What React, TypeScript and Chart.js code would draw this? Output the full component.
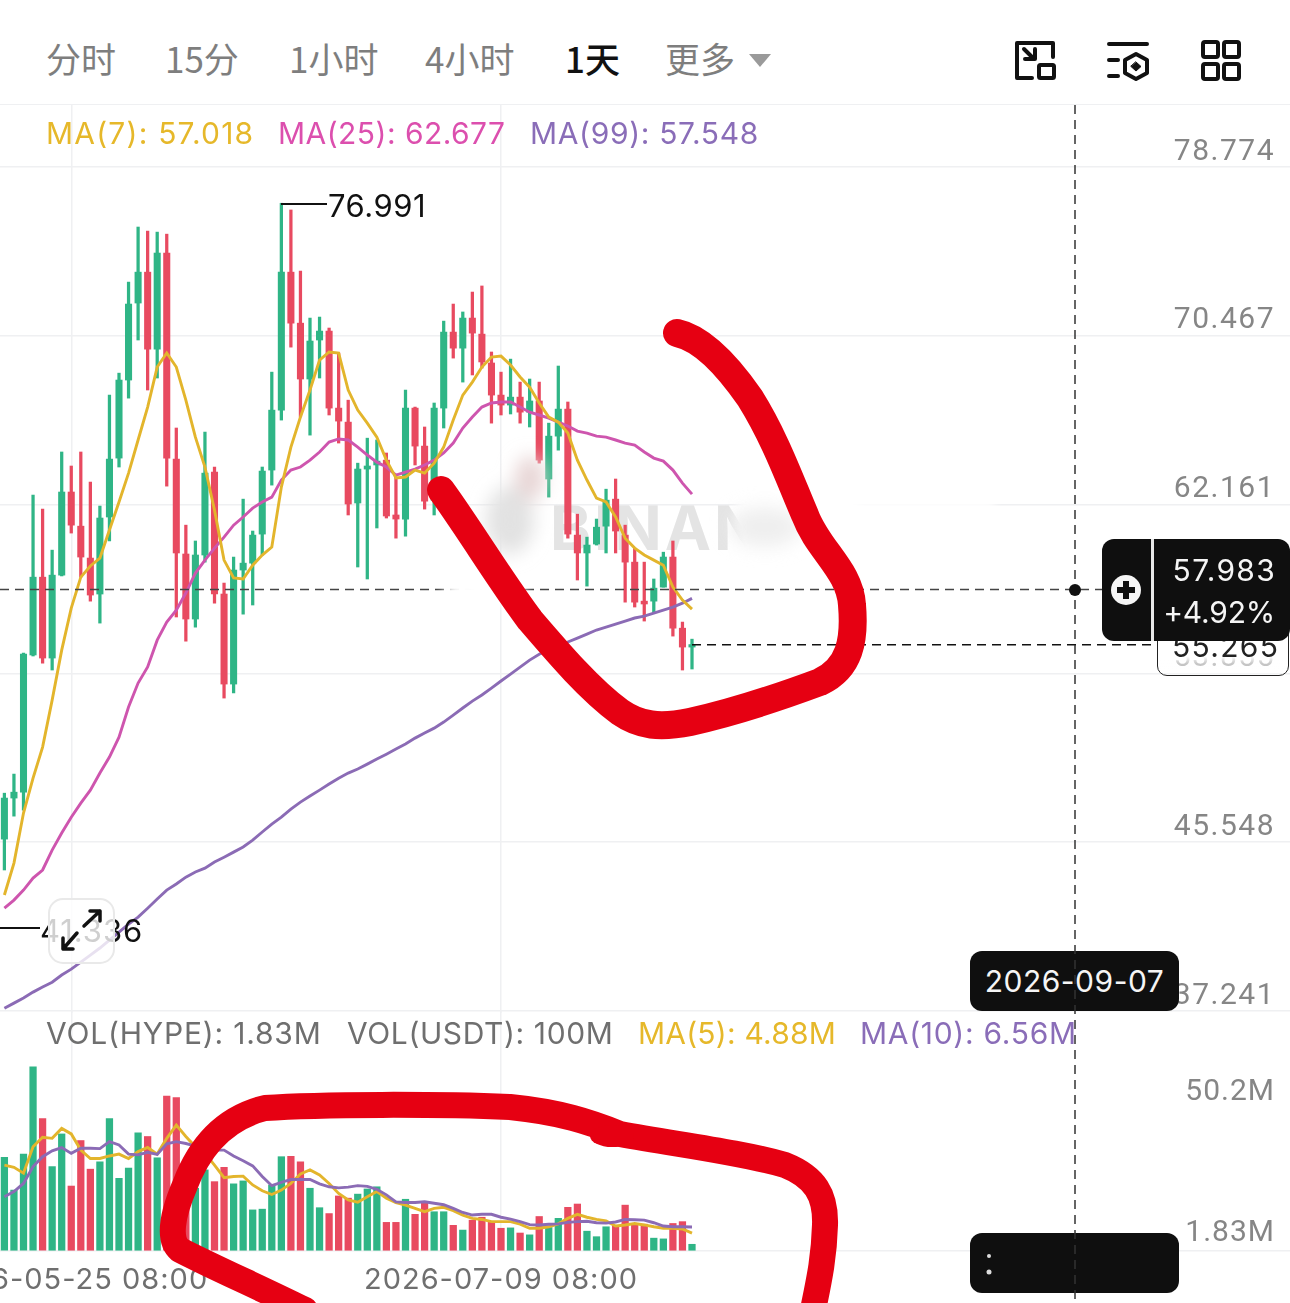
import { useEffect, useRef } from "react";
import { Chart, registerables } from "chart.js";

Chart.register(...registerables);

// daily candles (index 0 = 2026-05-18)
const opens = [45.7, 47.72, 48.01, 54.76, 58.59, 54.61, 58.69, 62.78, 61.1, 59.53, 57.76, 61.55, 64.45, 68.29, 72.08, 73.6, 69.81, 74.54, 64.4, 59.73, 56.53, 59.68, 63.76, 57.76, 53.33, 58.94, 59.28, 60.71, 63.86, 66.81, 73.6, 71.09, 68.34, 70.26, 70.7, 66.91, 66.22, 62.24, 63.91, 64.11, 64.35, 61.65, 61.45, 66.91, 65.04, 62.38, 66.91, 70.65, 69.86, 71.34, 70.55, 69.13, 67.55, 67.06, 67.45, 66.71, 67.26, 63.42, 65.53, 66.86, 60.66, 59.78, 60.22, 61.1, 62.43, 60.66, 59.33, 57.41, 57.41, 58.1, 59.58, 56.08, 55.15];
const highs = [47.96, 48.9, 54.85, 62.63, 61.94, 59.92, 64.75, 64.06, 64.75, 63.27, 62.09, 67.55, 68.63, 73.11, 75.82, 75.62, 75.57, 75.47, 65.93, 61.15, 60.37, 65.73, 64.01, 58.3, 59.58, 62.43, 60.86, 64.01, 68.68, 76.991, 76.66, 73.65, 71.34, 71.39, 70.85, 69.62, 67.3, 64.2, 65.43, 65.34, 64.7, 63.52, 67.8, 66.96, 65.98, 67.16, 71.19, 72.03, 71.64, 72.62, 72.92, 69.67, 68.68, 69.32, 68.19, 68.34, 68.19, 66.17, 68.98, 67.21, 61.69, 60.56, 61.45, 62.92, 63.42, 61.15, 60.02, 59.33, 58.5, 59.82, 60.37, 56.38, 55.54];
const lows = [44.18, 46.83, 47.13, 54.71, 54.36, 54.02, 58.65, 60.76, 58.59, 57.41, 56.33, 60.37, 64.01, 67.4, 70.26, 67.8, 68.39, 63.07, 56.63, 55.44, 56.13, 59.33, 57.31, 52.64, 52.89, 56.77, 57.22, 59.68, 63.12, 66.32, 69.91, 66.47, 65.58, 68.39, 66.57, 65.19, 61.65, 59.09, 58.5, 61.01, 61.5, 60.51, 60.61, 64.11, 61.94, 61.65, 65.93, 69.37, 68.19, 68.54, 68.88, 66.17, 66.57, 66.62, 66.17, 65.98, 64.2, 62.53, 64.84, 60.51, 58.45, 58.15, 60.17, 59.78, 59.78, 57.36, 57.12, 56.43, 56.82, 58.1, 55.69, 54.02, 54.07];
const closes = [47.72, 48.01, 54.81, 58.59, 54.61, 58.69, 62.78, 61.15, 59.58, 57.71, 61.5, 64.4, 68.29, 72.03, 73.6, 69.81, 74.54, 64.45, 59.78, 56.53, 59.68, 63.71, 57.76, 53.33, 58.94, 59.28, 60.66, 63.81, 66.81, 73.6, 71.09, 68.34, 70.21, 70.7, 66.91, 66.27, 62.19, 63.91, 64.06, 64.3, 61.6, 61.45, 66.91, 65.04, 62.33, 66.91, 70.65, 69.86, 71.34, 70.6, 69.18, 67.55, 67.06, 67.45, 66.71, 67.26, 64.35, 65.53, 66.86, 60.71, 59.78, 60.17, 61.05, 62.38, 60.86, 59.33, 57.36, 57.27, 58.05, 59.58, 56.08, 55.15, 55.265];

const ma7 = [42.95, 44.52, 46.98, 48.7, 50.23, 52.54, 55, 57.07, 58.59, 59.14, 59.53, 60.91, 62.29, 63.71, 65.34, 66.96, 68.93, 69.62, 68.93, 67.3, 65.48, 64.01, 61.89, 59.43, 58.55, 58.5, 59.18, 59.68, 60.07, 63.02, 64.99, 66.47, 67.8, 69.27, 69.67, 69.62, 67.8, 66.81, 66.17, 65.48, 64.35, 63.47, 63.52, 63.86, 63.71, 64.2, 64.99, 66.32, 67.55, 68.19, 68.93, 69.42, 69.47, 69.03, 68.44, 67.94, 67.16, 66.47, 66.22, 65.68, 64.35, 63.37, 62.48, 62.29, 61.55, 60.51, 60.02, 59.68, 59.43, 59.18, 58.1, 57.46, 57.018];
const ma25 = [42.3, 42.7, 43.19, 43.78, 44.18, 45.16, 46, 46.78, 47.47, 48.11, 48.95, 49.74, 50.72, 52.2, 53.38, 54.17, 55.49, 56.38, 56.97, 57.81, 58.79, 59.43, 60.02, 60.56, 61.15, 61.55, 61.99, 62.29, 62.53, 63.37, 63.86, 64.01, 64.35, 64.75, 65.24, 65.39, 65.34, 64.99, 64.6, 64.25, 64.01, 63.61, 63.76, 63.91, 64.11, 64.35, 64.7, 65.19, 65.93, 66.47, 66.96, 67.16, 67.21, 67.21, 66.96, 66.71, 66.57, 66.42, 66.22, 66.03, 65.78, 65.68, 65.53, 65.48, 65.34, 65.19, 65.09, 64.75, 64.45, 64.3, 63.86, 63.22, 62.677];
const ma99 = [37.38, 37.63, 37.88, 38.17, 38.42, 38.66, 39.01, 39.3, 39.65, 39.99, 40.34, 40.73, 41.12, 41.52, 41.86, 42.3, 42.75, 43.19, 43.49, 43.83, 44.08, 44.27, 44.57, 44.81, 45.06, 45.31, 45.65, 46.05, 46.44, 46.78, 47.18, 47.52, 47.82, 48.11, 48.41, 48.7, 48.95, 49.15, 49.39, 49.64, 49.88, 50.13, 50.38, 50.67, 50.92, 51.16, 51.46, 51.8, 52.15, 52.49, 52.79, 53.13, 53.48, 53.82, 54.16, 54.51, 54.8, 55, 55.2, 55.4, 55.59, 55.79, 55.99, 56.13, 56.28, 56.43, 56.58, 56.67, 56.82, 56.97, 57.12, 57.31, 57.548];

// volume in millions
const volumes = [25.5, 16.6, 26.4, 50.2, 36.1, 23, 31.9, 17.7, 30.1, 22.3, 24.3, 36.1, 19.8, 22.6, 32.2, 31.2, 25.4, 42.2, 41.8, 20, 17.1, 22.1, 18.9, 22.8, 18.3, 19.1, 11.2, 11.4, 18, 25.7, 25.8, 24.3, 17.1, 11.8, 10.2, 15, 14.4, 15.5, 16.9, 17.5, 7.8, 7.8, 14.1, 10, 13.4, 10.7, 10.7, 7, 5.7, 8.4, 9.2, 8, 6.2, 6.3, 4.9, 4.4, 9.4, 6.4, 8.9, 11.9, 12.8, 5.4, 3.9, 6.6, 6.8, 12.5, 7.5, 7.3, 3.5, 3.3, 7.5, 8, 1.83];
const volMa5 = [23.4, 22.8, 21.2, 28.4, 31, 30.7, 33.4, 31.9, 27.5, 25.2, 25.2, 25.9, 26.4, 25.2, 27.1, 28.2, 26.4, 30.7, 34.3, 31.2, 28.4, 26.6, 23.4, 20, 20.3, 20.4, 18, 16.4, 15.4, 16.6, 18.4, 21, 22.1, 20.7, 18.4, 15.7, 13.9, 13.3, 14.8, 16.2, 14.4, 13.2, 12.5, 11.6, 10.7, 11.6, 11.9, 11, 9.8, 8.9, 8.6, 8, 8, 8, 7.3, 6.2, 6.2, 6.6, 7.4, 8.9, 10, 9.2, 8.6, 8.2, 6.8, 7.1, 7.5, 7.1, 6.6, 6.2, 6.2, 6, 4.88];
const volMa10 = [14.8, 16.2, 18.4, 23, 25.7, 27.3, 28.2, 26.6, 28, 28, 27.9, 29.8, 28.9, 26.4, 26.2, 26.9, 26.3, 29.2, 29.8, 29.3, 28.6, 28, 27.5, 27.5, 25.9, 24.6, 23.2, 20.3, 17.8, 18.7, 19.5, 19.5, 19.5, 18.3, 17.5, 17.2, 17.4, 17.8, 17.6, 16.8, 15.3, 13.4, 13.2, 13.2, 13.4, 13, 12.6, 11.6, 10.5, 9.8, 10, 10, 9.2, 8.7, 8, 7.2, 7.1, 7.3, 7.4, 7.8, 8, 8.1, 7.7, 7.6, 7.9, 8.6, 8.5, 8.4, 7.7, 6.8, 6.6, 6.6, 6.56];

const priceTicks = [78.774, 70.467, 62.161, 53.855, 45.548, 37.241];
const markPrice = 57.983;
const lastPrice = 55.265;
const dateTicks = [7, 52];
const dateLabels = ["2026-05-25 08:00", "2026-07-09 08:00"];
const volumeTickLabels = ["50.2M", "1.83M"];

const GREEN = "#2FB586";
const RED = "#E84A60";
const YELLOW = "#E3B52C";
const PINK = "#CE55AE";
const PURPLE = "#8B6BB5";
const GRID = "#EFF0F2";
const FONT = "Inter, sans-serif";
// tabular digits for the price column, canvas text can't ask Inter for them
const AXIS_FONT = "Roboto, sans-serif";

// x window: candle i sits at 4.4 + 9.55 * i px
const X_MIN = -4.4 / 9.55;
const X_MAX = (1290 - 4.4) / 9.55;

const candleColors = closes.map((c, i) => (c >= opens[i] ? GREEN : RED));

const xy = (values: number[]) => values.map((y, x) => ({ x, y }));

const hLine = (value: number, fromX: number, color: string, width: number) => ({
  type: "line" as const,
  data: [
    { x: fromX, y: value },
    { x: X_MAX, y: value },
  ],
  borderColor: color,
  borderWidth: width,
  borderDash: [9, 6],
  pointRadius: 0,
  order: 0,
});

const maLine = (values: number[], color: string, order: number) => ({
  type: "line" as const,
  data: xy(values),
  borderColor: color,
  borderWidth: 2.9,
  pointRadius: 0,
  tension: 0,
  order,
});

const basePlugins = { legend: { display: false }, tooltip: { enabled: false } };

// the app's font runs wider, chart.js has no option for this
const spacedText = (px: string) => ({
  id: "spacedText",
  beforeDraw: (chart: any) => {
    chart.ctx.letterSpacing = px;
  },
});

function buildPriceChart(canvas: HTMLCanvasElement) {
  return new Chart(canvas, {
    type: "bar",
    plugins: [spacedText("1.5px")],
    data: {
      datasets: [
        hLine(markPrice, X_MIN, "#444", 1.6),
        hLine(lastPrice, 72, "#111", 1.4),
        maLine(ma7, YELLOW, 1),
        maLine(ma25, PINK, 2),
        maLine(ma99, PURPLE, 3),
        {
          data: opens.map((o, i) => ({ x: i, y: [o, closes[i]] })),
          backgroundColor: candleColors,
          barThickness: 6.4,
          minBarLength: 2.5,
          grouped: false,
          order: 4,
        },
        {
          data: lows.map((l, i) => ({ x: i, y: [l, highs[i]] })),
          backgroundColor: candleColors,
          barThickness: 2.6,
          grouped: false,
          order: 5,
        },
      ] as any,
    },
    options: {
      responsive: false,
      animation: false,
      devicePixelRatio: 1,
      layout: { padding: 0 },
      plugins: basePlugins,
      scales: {
        x: {
          type: "linear",
          offset: false,
          min: X_MIN,
          max: X_MAX,
          afterBuildTicks: (s: any) => {
            s.ticks = dateTicks.map((value) => ({ value }));
          },
          afterFit: (s: any) => {
            s.height = 0;
            s.paddingLeft = 0;
            s.paddingRight = 0;
          },
          ticks: { display: false },
          grid: { offset: false, color: GRID, lineWidth: 1.5, drawTicks: false },
          border: { display: false },
        },
        y: {
          position: "right",
          min: 37.143,
          max: 81.825,
          afterBuildTicks: (s: any) => {
            s.ticks = priceTicks.map((value) => ({ value }));
          },
          afterFit: (s: any) => {
            s.width = 0;
            s.paddingTop = 0;
            s.paddingBottom = 0;
          },
          ticks: {
            mirror: true,
            padding: -15,
            labelOffset: -15,
            color: "#868686",
            font: { family: AXIS_FONT, size: 30 },
            callback: (v: any) => Number(v).toFixed(3),
          },
          grid: { color: GRID, lineWidth: 1.5, drawTicks: false },
          border: { display: false },
        },
      },
    } as any,
  });
}

function buildVolumeChart(canvas: HTMLCanvasElement) {
  return new Chart(canvas, {
    type: "bar",
    plugins: [spacedText("1px")],
    data: {
      datasets: [
        maLine(volMa5, YELLOW, 1),
        maLine(volMa10, PURPLE, 0),
        {
          data: xy(volumes),
          backgroundColor: candleColors,
          barThickness: 6.6,
          order: 2,
        },
      ] as any,
    },
    options: {
      responsive: false,
      animation: false,
      devicePixelRatio: 1,
      layout: { padding: 0 },
      plugins: basePlugins,
      scales: {
        x: {
          type: "linear",
          offset: false,
          min: X_MIN,
          max: X_MAX,
          afterBuildTicks: (s: any) => {
            s.ticks = dateTicks.map((value) => ({ value }));
          },
          afterFit: (s: any) => {
            s.height = 52;
            s.paddingLeft = 0;
            s.paddingRight = 0;
          },
          ticks: {
            autoSkip: false,
            maxRotation: 0,
            padding: 12,
            color: "#6F6F6F",
            font: { family: FONT, size: 29 },
            callback: (_v: any, i: number) => dateLabels[i],
          },
          grid: { offset: false, color: GRID, lineWidth: 1.5, drawTicks: false },
          border: { display: false },
        },
        y: {
          position: "right",
          min: 0,
          max: 65.4,
          // the two labels sit away from their values, as in the app
          afterBuildTicks: (s: any) => {
            s.ticks = [{ value: 38.4 }, { value: 0 }];
          },
          afterFit: (s: any) => {
            s.width = 0;
            s.paddingTop = 0;
            s.paddingBottom = 0;
          },
          ticks: {
            mirror: true,
            padding: -15,
            labelOffset: -18,
            color: "#868686",
            font: { family: AXIS_FONT, size: 30 },
            callback: (_v: any, i: number) => volumeTickLabels[i],
          },
          grid: {
            color: (c: any) => (c.tick && c.tick.value === 0 ? GRID : "transparent"),
            lineWidth: 1.5,
            drawTicks: false,
          },
          border: { display: false },
        },
      },
    } as any,
  });
}

const text = (
  left: number,
  top: number,
  size: number,
  color: string,
  spacing = 0,
  extra: React.CSSProperties = {}
): React.CSSProperties => ({
  position: "absolute",
  left,
  top,
  fontSize: size,
  lineHeight: `${size + 6}px`,
  letterSpacing: spacing,
  color,
  fontFamily: FONT,
  whiteSpace: "nowrap",
  ...extra,
});

const CJK = '"Noto Sans CJK SC", sans-serif';
const TAB = "#7E7E7E";

const Icons = () => (
  <svg width={1290} height={105} style={{ position: "absolute", left: 0, top: 0 }} fill="none" stroke="#111" strokeWidth={4} strokeLinecap="round" strokeLinejoin="round">
    <path d="M1032 78H1017V43H1053V57" />
    <rect x={1039} y={65} width={15} height={13} rx={1.5} />
    <path d="M1024 49L1034 59M1035 49V59H1025" />
    <path d="M1109 44H1147M1109 60H1118M1109 76H1118" />
    <path d="M1136 54L1147 60V73L1136 79L1125 73V60Z" />
    <path d="M1136 62L1141 66.5L1136 71L1131 66.5Z" fill="#111" strokeWidth={1} />
    <rect x={1203} y={42} width={15} height={15} rx={2} />
    <rect x={1224} y={42} width={15} height={15} rx={2} />
    <rect x={1203} y={64} width={15} height={15} rx={2} />
    <rect x={1224} y={64} width={15} height={15} rx={2} />
    <path d="M749 54H771L760 67Z" fill="#9A9A9A" stroke="none" />
  </svg>
);

const Scribbles = () => (
  <svg width={1290} height={1303} style={{ position: "absolute", left: 0, top: 0 }} fill="none">
    <defs>
      <filter id="soft" x="-50%" y="-50%" width="200%" height="200%">
        <feGaussianBlur stdDeviation="9" />
      </filter>
      <filter id="soft2" x="-50%" y="-50%" width="200%" height="200%">
        <feGaussianBlur stdDeviation="5" />
      </filter>
    </defs>
    {/* smudged-out logo */}
    <g filter="url(#soft2)">
      <ellipse cx={485} cy={592} rx={42} ry={14} fill="#fff" />
      <rect x={738} y={496} width={120} height={66} fill="#fff" />
      <rect x={830} y={499} width={165} height={11} fill="#fff" />
    </g>
    <g filter="url(#soft)">
      <ellipse cx={510} cy={520} rx={24} ry={34} fill="#E2E2E2" />
      <ellipse cx={530} cy={478} rx={15} ry={22} fill="#E8D6D6" />
      <ellipse cx={765} cy={527} rx={36} ry={20} fill="#EFEFEF" />
    </g>
    {/* hand-drawn marks */}
    <path
      d="M677 333C700 338 725 362 750 398C775 438 790 480 805 515C818 550 850 570 852 605C855 640 850 668 820 682C785 695 735 712 690 722C660 728 640 726 620 712C590 690 560 655 530 620C500 580 470 530 441 490"
      stroke="#E60012"
      strokeWidth={28}
      strokeLinecap="round"
      strokeLinejoin="round"
    />
    <path
      d="M305 1310C265 1290 215 1268 180 1250C168 1240 172 1215 185 1185C200 1145 225 1118 265 1108C320 1104 440 1104 510 1107C560 1112 590 1122 620 1134C680 1145 740 1152 785 1165C815 1177 826 1195 825 1225C824 1260 818 1285 813 1310"
      stroke="#E60012"
      strokeWidth={26}
      strokeLinecap="round"
      strokeLinejoin="round"
    />
    <ellipse cx={612} cy={1136} rx={22} ry={11} fill="#E60012" />
  </svg>
);

export default function App() {
  const priceRef = useRef<HTMLCanvasElement | null>(null);
  const volumeRef = useRef<HTMLCanvasElement | null>(null);

  useEffect(() => {
    if (!priceRef.current || !volumeRef.current) return;
    const price = buildPriceChart(priceRef.current);
    const volume = buildVolumeChart(volumeRef.current);
    return () => {
      price.destroy();
      volume.destroy();
    };
  }, []);

  return (
    <div style={{ position: "absolute", left: 0, top: 0, width: 1290, height: 1303, background: "#fff", overflow: "hidden" }}>
      {/* tabs */}
      <div style={text(46, 37, 35, TAB, 0, { fontFamily: CJK })}>分时</div>
      <div style={text(165, 37, 35, TAB, 0, { fontFamily: CJK })}>15分</div>
      <div style={text(289, 37, 35, TAB, 0, { fontFamily: CJK })}>1小时</div>
      <div style={text(425, 37, 35, TAB, 0, { fontFamily: CJK })}>4小时</div>
      <div style={text(565, 37, 35, "#111", 0, { fontFamily: CJK, fontWeight: 500 })}>1天</div>
      <div style={text(665, 37, 35, TAB, 0, { fontFamily: CJK })}>更多</div>
      <Icons />
      <div style={{ position: "absolute", left: 0, top: 104, width: 1290, height: 1, background: GRID }} />

      {/* watermark sits under the charts */}
      <div style={text(550, 494, 62, "#E4E4E4", 3, { fontWeight: 700 })}>BINANCE</div>

      <canvas ref={priceRef} width={1290} height={908} style={{ position: "absolute", left: 0, top: 105, width: 1290, height: 908 }} />
      <canvas ref={volumeRef} width={1290} height={292} style={{ position: "absolute", left: 0, top: 1011, width: 1290, height: 292 }} />

      {/* MA legends */}
      <div style={text(46, 115, 30, "#E6B82A", 1.2)}>MA(7): 57.018</div>
      <div style={text(278, 115, 30, "#DC4FAE", 0.45)}>MA(25): 62.677</div>
      <div style={text(530, 115, 30, "#8A6DB8", 0.65)}>MA(99): 57.548</div>
      <div style={text(46, 1015, 30, "#6F6F6F", 0.8)}>VOL(HYPE): 1.83M</div>
      <div style={text(347, 1015, 30, "#6F6F6F", 0.6)}>VOL(USDT): 100M</div>
      <div style={text(638, 1015, 30, "#E6B82A", 0.2)}>MA(5): 4.88M</div>
      <div style={text(860, 1015, 30, "#8A6DB8", 0.7)}>MA(10): 6.56M</div>

      {/* high / low callouts */}
      <div style={{ position: "absolute", left: 281, top: 203, width: 46, height: 1.5, background: "#111" }} />
      <div style={text(328, 187, 31, "#111", 0.5)}>76.991</div>
      <div style={{ position: "absolute", left: 0, top: 927, width: 40, height: 1.5, background: "#111" }} />
      <div style={text(40, 912, 31, "#111", 0.9)}>41.336</div>

      {/* expand button */}
      <div style={{ position: "absolute", left: 48, top: 898, width: 67, height: 66, borderRadius: 15, background: "rgba(255,255,255,0.8)", border: "2px solid #E9E9E9", boxSizing: "border-box" }} />
      <svg width={70} height={70} style={{ position: "absolute", left: 46, top: 896 }} fill="none" stroke="#111" strokeWidth={3.5} strokeLinecap="round" strokeLinejoin="round">
        <path d="M38 30L54 15M44 15H54V25M31 37L17 53M17 42V53H27" />
      </svg>

      {/* last price tag */}
      <div style={{ position: "absolute", left: 1157, top: 625, width: 132, height: 51, boxSizing: "border-box", border: "1.5px solid #222", borderRadius: 10, background: "linear-gradient(#fff 0%, #fff 62%, rgba(255,255,255,0.55) 76%, rgba(255,255,255,0.3) 100%)" }} />
      <div style={text(1172, 628, 30, "#222", 1.3)}>55.265</div>

      <Scribbles />

      {/* mark price tag */}
      <div style={{ position: "absolute", left: 1102, top: 539, width: 188, height: 102, borderRadius: 12, background: "#0F0F0F" }} />
      <div style={{ position: "absolute", left: 1151, top: 539, width: 3, height: 102, background: "#E8E8E8" }} />
      <svg width={34} height={34} style={{ position: "absolute", left: 1109, top: 573 }}>
        <circle cx={17} cy={17} r={15} fill="#F5F5F5" />
        <path d="M17 8V26M8 17H26" stroke="#0F0F0F" strokeWidth={6} />
      </svg>
      <div style={text(0, 552, 30, "#F5F5F5", 1.3, { left: "auto", right: 14 })}>57.983</div>
      <div style={text(0, 594, 30, "#F5F5F5", -0.2, { left: "auto", right: 15 })}>+4.92%</div>

      {/* crosshair date tags */}
      <div style={{ position: "absolute", left: 970, top: 951, width: 209, height: 60, borderRadius: 12, background: "#0F0F0F", color: "#F5F5F5", fontFamily: FONT, fontSize: 30, letterSpacing: 0.5, lineHeight: "60px", textAlign: "center" }}>2026-09-07</div>
      <div style={{ position: "absolute", left: 970, top: 1233, width: 209, height: 60, borderRadius: 12, background: "#0F0F0F" }} />
      <svg width={1290} height={1303} style={{ position: "absolute", left: 0, top: 0 }} fill="none">
        <circle cx={989} cy={1256} r={2} fill="#ddd" />
        <circle cx={989} cy={1272} r={2.5} fill="#ddd" />
        <path d="M1075 105V1303" stroke="#333" strokeWidth={1.5} strokeDasharray="9 6" />
        <circle cx={1075} cy={590} r={6} fill="#111" />
      </svg>
    </div>
  );
}
